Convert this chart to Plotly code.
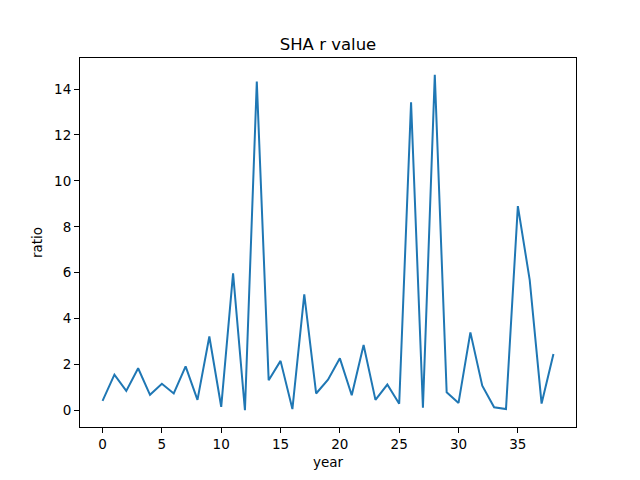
import plotly.graph_objects as go

years = list(range(39))
ratio = [0.42, 1.56, 0.85, 1.84, 0.68, 1.16, 0.74, 1.92, 0.46, 3.22,
         0.16, 5.97, 0.01, 14.33, 1.32, 2.16, 0.06, 5.06, 0.74, 1.34,
         2.27, 0.66, 2.85, 0.46, 1.13, 0.29, 13.42, 0.12, 14.62, 0.79,
         0.33, 3.40, 1.08, 0.14, 0.06, 8.90, 5.68, 0.30, 2.46]

fig = go.Figure(go.Scatter(x=years, y=ratio, mode="lines",
                           line=dict(color="#1f77b4", width=2)))

font = dict(family="DejaVu Sans", size=13.5, color="black")
axis_common = dict(showgrid=False, zeroline=False, showline=True, mirror=True,
                   linecolor="black", linewidth=1.1, ticks="outside",
                   ticklen=5, tickwidth=1.1, tickcolor="black",
                   tickfont=font)

fig.update_layout(
    width=640, height=480,
    margin=dict(l=72, r=72, t=50, b=61),
    paper_bgcolor="white", plot_bgcolor="white",
    showlegend=False,
    title=dict(text="SHA r value", x=(72 + 568) / 2 / 640, xanchor="center",
               y=1 - 36 / 480, yanchor="middle",
               font=dict(family="DejaVu Sans", size=16.5, color="black")),
    xaxis=dict(range=[-1.9, 39.9], tickvals=[0, 5, 10, 15, 20, 25, 30, 35],
               title=dict(text="year", font=font, standoff=6), **axis_common),
    yaxis=dict(range=[-0.72, 15.35], tickvals=[0, 2, 4, 6, 8, 10, 12, 14],
               title=dict(text="ratio", font=font, standoff=8), **axis_common),
)

fig.write_html("out.html")
